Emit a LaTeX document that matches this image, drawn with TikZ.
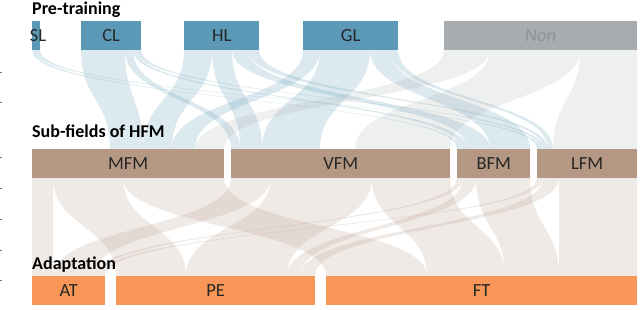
\documentclass[tikz,border=0pt]{standalone}
\usepackage{fontspec}
\setmainfont{Carlito}
\definecolor{blueb}{RGB}{91,153,182}
\definecolor{grayb}{RGB}{166,172,175}
\definecolor{brownb}{RGB}{181,152,131}
\definecolor{orangeb}{RGB}{247,150,87}
\definecolor{nontext}{RGB}{142,146,148}
\definecolor{tickc}{RGB}{120,120,120}
% ribbon between two layers: [#1,#2] at y=#3 to [#4,#5] at y=#6
\newcommand{\flowband}[7]{%
  \fill[#7] (#1,#3) .. controls (#1,{(#3+#6)/2}) and (#4,{(#3+#6)/2}) .. (#4,#6)
    -- (#5,#6) .. controls (#5,{(#3+#6)/2}) and (#2,{(#3+#6)/2}) .. (#2,#3) -- cycle;}
\newcommand{\topflow}[5]{\flowband{#1}{#2}{50}{#3}{#4}{149}{#5}}
\newcommand{\lowflow}[4]{\flowband{#1}{#2}{178}{#3}{#4}{276}{beigeflow}}
\begin{document}
\begin{tikzpicture}[x=1pt,y=-1pt,
  bar/.style={rectangle, draw=none, inner sep=0pt, anchor=north west, minimum height=29pt},
  barlabel/.style={font=\fontsize{18.5}{21}\selectfont, text=black!85},
  title/.style={font=\bfseries\fontsize{18}{21}\selectfont, anchor=base west, inner sep=0pt},
  blueflow/.style={fill=blueb, fill opacity=0.21},
  grayflow/.style={fill=grayb, fill opacity=0.18},
  beigeflow/.style={fill=brownb, fill opacity=0.2},
  tickmark/.style={draw=tickc, line width=0.8pt}]
\useasboundingbox (0,0) rectangle (640,310);
\fill[white] (0,0) rectangle (640,310);

% ---- flows: pre-training -> sub-fields
\topflow{32}{36}{457}{460}{blueflow}
\topflow{36}{40}{537}{540}{blueflow}
\topflow{81}{125}{110}{143}{blueflow}
\topflow{125}{133}{231}{240}{blueflow}
\topflow{133}{137}{460}{468}{blueflow}
\topflow{137}{141}{540}{544}{blueflow}
\topflow{184}{212}{143}{172}{blueflow}
\topflow{212}{232}{240}{262}{blueflow}
\topflow{232}{248}{468}{490}{blueflow}
\topflow{248}{259}{544}{548}{blueflow}
\topflow{303}{320}{172}{195}{blueflow}
\topflow{320}{370}{262}{320}{blueflow}
\topflow{370}{390}{490}{530}{blueflow}
\topflow{390}{398}{548}{553}{blueflow}
\topflow{444}{490}{195}{224}{grayflow}
\topflow{490}{580}{355}{450}{grayflow}
\topflow{580}{637}{553}{637}{grayflow}

% ---- flows: sub-fields -> adaptation
\lowflow{32}{53}{32}{53}
\lowflow{53}{123}{116}{186}
\lowflow{123}{224}{326}{427}
\lowflow{231}{271}{53}{93}
\lowflow{271}{372}{186}{287}
\lowflow{372}{450}{427}{505}
\lowflow{457}{463}{93}{99}
\lowflow{463}{476}{287}{300}
\lowflow{476}{530}{505}{559}
\lowflow{537}{543}{99}{105}
\lowflow{543}{559}{300}{315}
\lowflow{559}{637}{559}{637}

% ---- titles
\node[title] (tpre) at (32,15) {Pre-training};
\node[title] (tsub) at (32,138) {Sub-fields of HFM};
\node[title] (tada) at (32,269) {Adaptation};

% ---- pre-training bars
\node[bar, fill=blueb, minimum width=8pt] (SL) at (32,21) {};
\node[barlabel] at (38,36) {SL};
\node[bar, fill=blueb, minimum width=60pt, label={[barlabel]center:CL}] (CL) at (81,21) {};
\node[bar, fill=blueb, minimum width=75pt, label={[barlabel]center:HL}] (HL) at (184,21) {};
\node[bar, fill=blueb, minimum width=95pt, label={[barlabel]center:GL}] (GL) at (303,21) {};
\node[bar, fill=grayb, minimum width=193pt, label={[barlabel, text=nontext, font=\itshape\fontsize{18.5}{21}\selectfont]center:Non}] (Non) at (444,21) {};

% ---- sub-field bars
\node[bar, fill=brownb, minimum width=192pt, label={[barlabel]center:MFM}] (MFM) at (32,149) {};
\node[bar, fill=brownb, minimum width=219pt, label={[barlabel]center:VFM}] (VFM) at (231,149) {};
\node[bar, fill=brownb, minimum width=73pt, label={[barlabel]center:BFM}] (BFM) at (457,149) {};
\node[bar, fill=brownb, minimum width=100pt, label={[barlabel]center:LFM}] (LFM) at (537,149) {};

% ---- adaptation bars
\node[bar, fill=orangeb, minimum width=73pt, label={[barlabel]center:AT}] (AT) at (32,276) {};
\node[bar, fill=orangeb, minimum width=199pt, label={[barlabel]center:PE}] (PE) at (116,276) {};
\node[bar, fill=orangeb, minimum width=311pt, label={[barlabel]center:FT}] (FT) at (326,276) {};

% ---- small ticks at the left edge
\foreach \ty in {72,102,157,188,219,250,280} {\draw[tickmark] (0,\ty) -- (2,\ty);}
\end{tikzpicture}
\end{document}
